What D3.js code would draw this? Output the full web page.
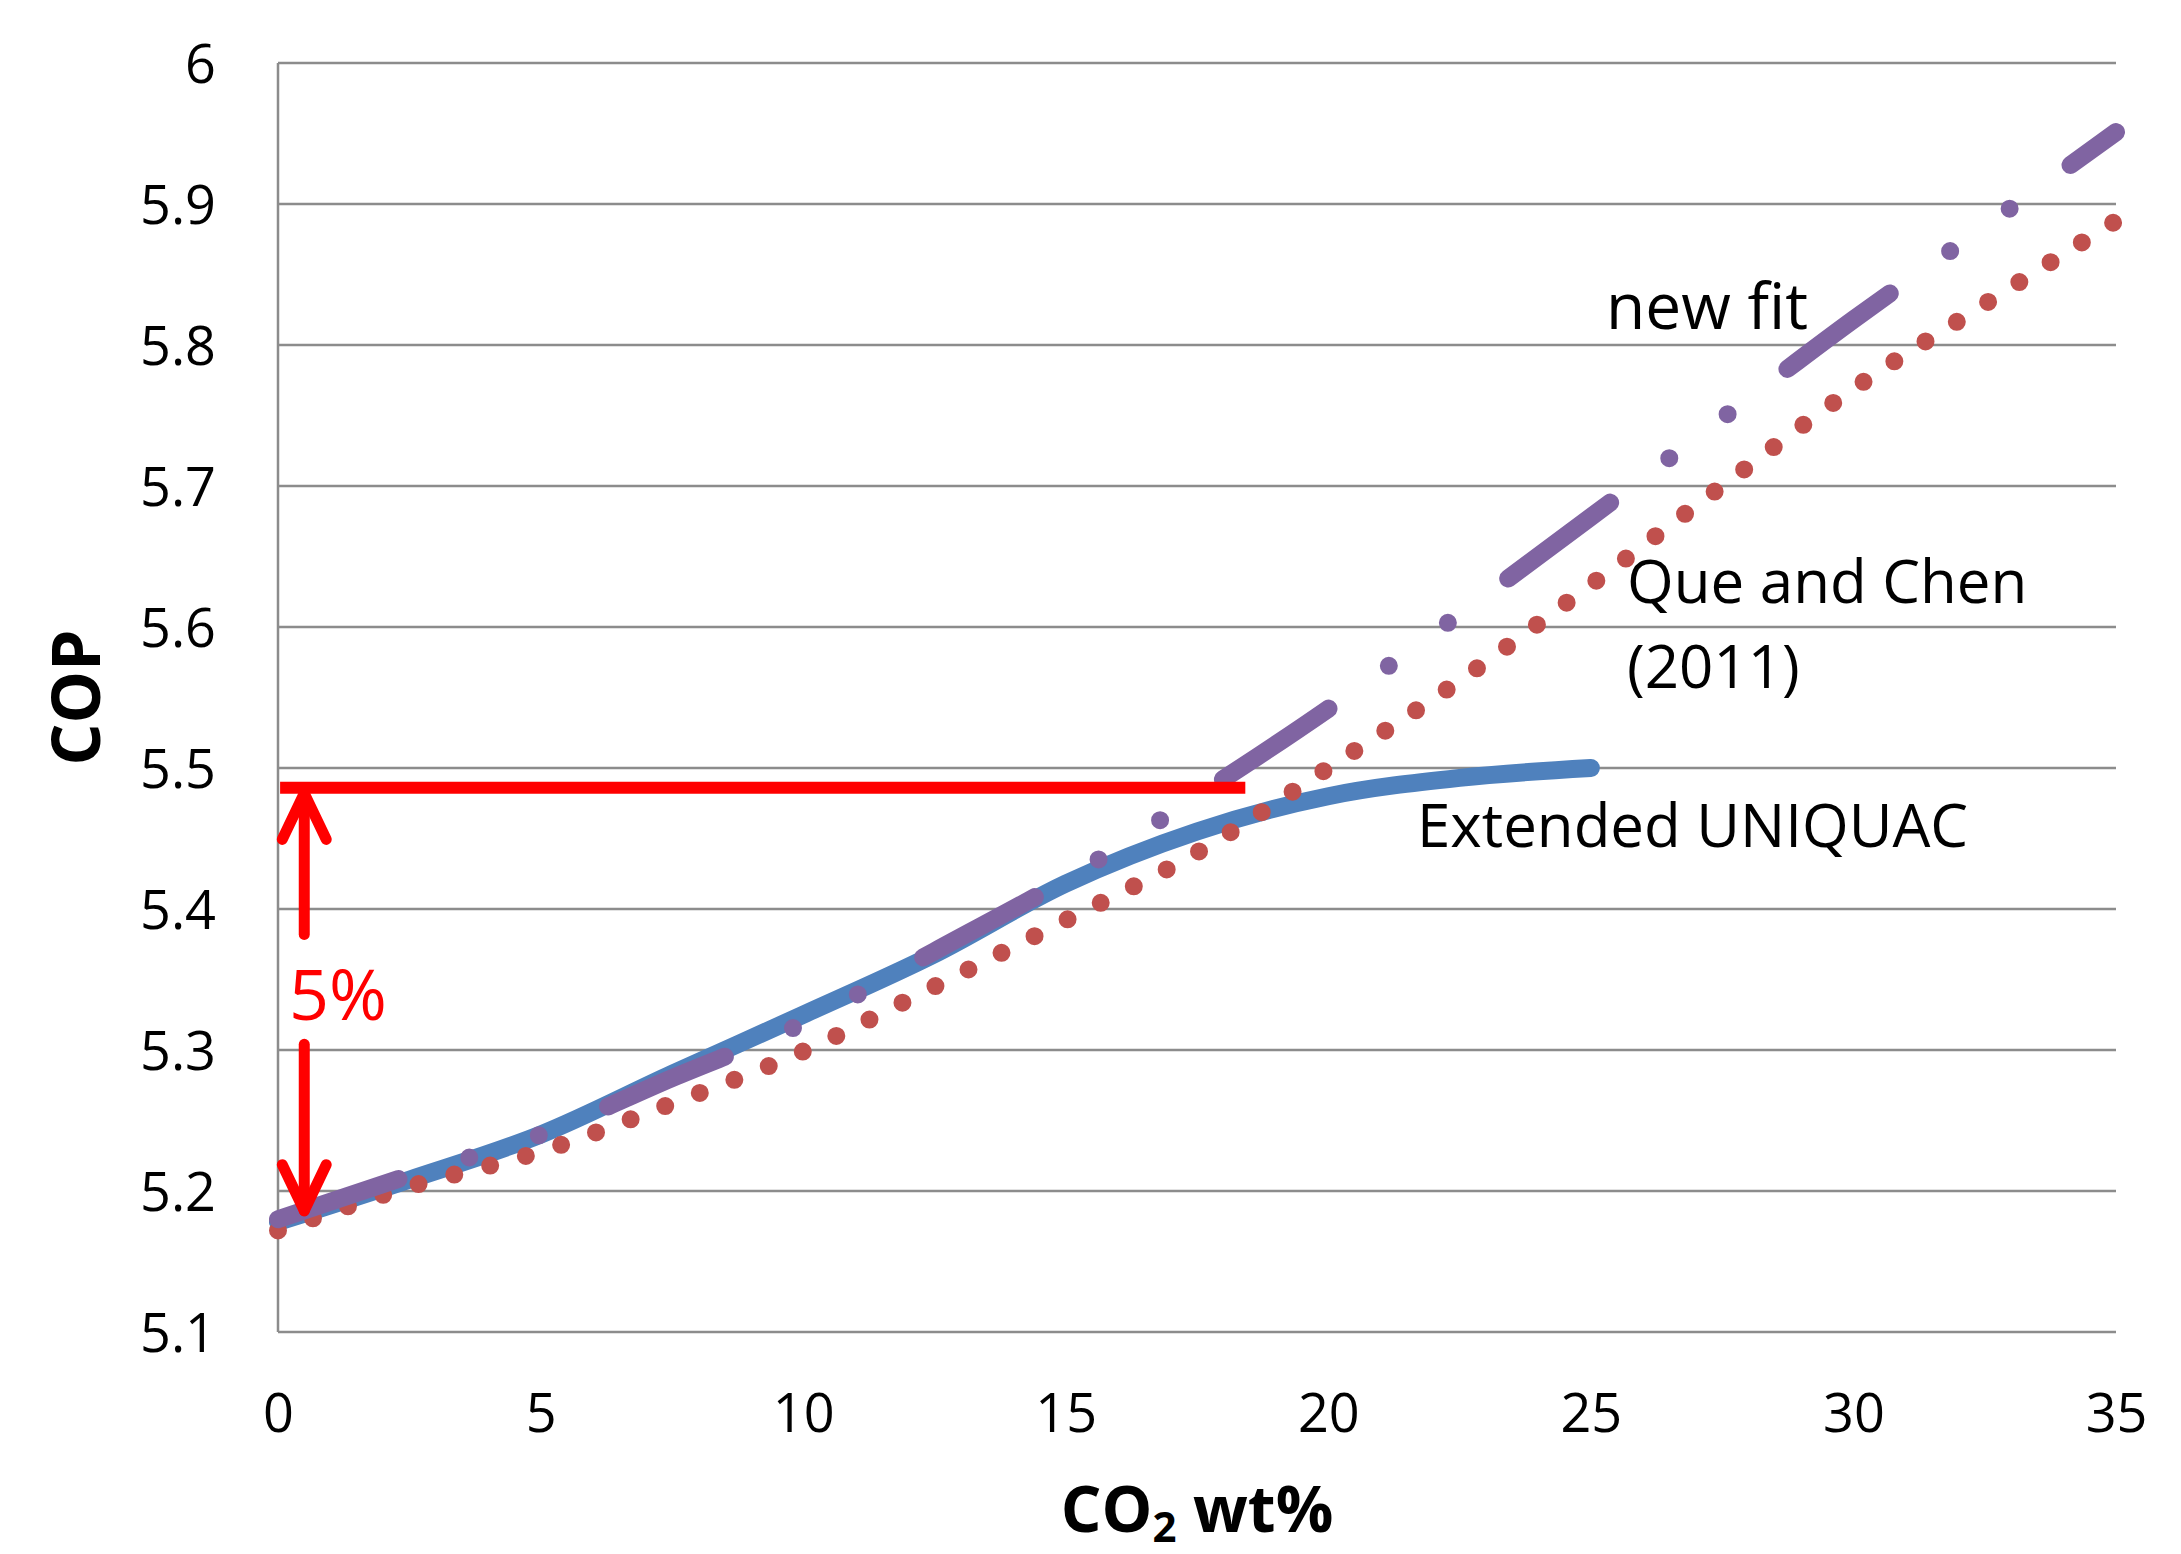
<!DOCTYPE html>
<html>
<head>
<meta charset="utf-8">
<script src="https://cdn.jsdelivr.net/npm/d3@7"></script>
<style>
  body { margin: 0; background: #fff; }
  text { font-family: "Open Sans", sans-serif; fill: #000; }
</style>
</head>
<body>
<svg id="chart" width="2181" height="1554"></svg>
<script>
// CO2 wt% sample points
const coWt = [0, 2.5, 5, 7.5, 10, 12.5, 15, 17.5, 20, 22.5, 25, 27.5, 30, 32.5, 35];

// COP per model (Extended UNIQUAC only runs to 25 wt%)
const extendedUniquac = [5.178, 5.208, 5.240, 5.283, 5.325, 5.368, 5.418, 5.455, 5.480, 5.493, 5.500];
const queChen = [5.172, 5.203, 5.228, 5.262, 5.299, 5.345, 5.392, 5.440, 5.500, 5.562, 5.630, 5.700, 5.769, 5.829, 5.888];
const newFit = [5.180, 5.211, 5.240, 5.280, 5.319, 5.370, 5.421, 5.480, 5.542, 5.609, 5.678, 5.748, 5.818, 5.884, 5.951];

const xTicks = [0, 5, 10, 15, 20, 25, 30, 35];
const yTicks = [5.1, 5.2, 5.3, 5.4, 5.5, 5.6, 5.7, 5.8, 5.9, 6];

// the red 5% marker
const markerCop = [5.486];
const markerSpan = [0.04, 18.42];
const arrowX = [0.5];
const arrowUpper = [5.482, 5.382];
const arrowLower = [5.304, 5.186];

const svg = d3.select('#chart');
const plotLeft = 278, plotRight = 2116, plotTop = 63, plotBottom = 1332;

const x = d3.scaleLinear().domain([0, 35]).range([plotLeft, plotRight]);
const y = d3.scaleLinear().domain([5.1, 6]).range([plotBottom, plotTop]);

// gridlines
svg.append('g')
  .selectAll('line')
  .data(yTicks)
  .enter()
  .append('line')
  .attr('x1', plotLeft)
  .attr('x2', plotRight)
  .attr('y1', d => y(d))
  .attr('y2', d => y(d))
  .attr('stroke', '#8c8c8c')
  .attr('stroke-width', 2.5);

svg.append('line')
  .attr('x1', plotLeft).attr('x2', plotLeft)
  .attr('y1', plotTop).attr('y2', plotBottom)
  .attr('stroke', '#8c8c8c')
  .attr('stroke-width', 2.5);

// axes, drawn with d3 but without tick marks or domain path
const yAxis = svg.append('g')
  .attr('transform', `translate(${plotLeft},0)`)
  .call(d3.axisLeft(y).tickValues(yTicks).tickSize(0).tickPadding(62).tickFormat(d => d === 6 ? '6' : d3.format('.1f')(d)));
yAxis.select('.domain').remove();
yAxis.selectAll('text')
  .attr('font-family', '"Open Sans", sans-serif')
  .attr('font-size', 54)
  .attr('fill', '#000')
  .attr('dy', '0.36em');

const xAxis = svg.append('g')
  .attr('transform', `translate(0,${plotBottom})`)
  .call(d3.axisBottom(x).tickValues(xTicks).tickSize(0).tickFormat(d3.format('d')));
xAxis.select('.domain').remove();
xAxis.selectAll('text')
  .attr('font-family', '"Open Sans", sans-serif')
  .attr('font-size', 54)
  .attr('fill', '#000')
  .attr('y', 100)
  .attr('dy', 0);

// axis titles
const xTitle = svg.append('text')
  .attr('x', (plotLeft + plotRight) / 2)
  .attr('y', 1532)
  .attr('text-anchor', 'middle')
  .attr('font-size', 64)
  .attr('font-weight', 'bold');
xTitle.append('tspan').text('CO');
xTitle.append('tspan').attr('font-size', 42).attr('dy', 10).text('2');
xTitle.append('tspan').attr('dy', -10).text(' wt%');

svg.append('text')
  .attr('transform', `translate(100,${(plotTop + plotBottom) / 2}) rotate(-90)`)
  .attr('text-anchor', 'middle')
  .attr('font-size', 66)
  .attr('font-weight', 'bold')
  .text('COP');

// series
const line = d3.line()
  .x(d => x(d[0]))
  .y(d => y(d[1]))
  .curve(d3.curveMonotoneX);

svg.append('path')
  .datum(extendedUniquac.map((v, i) => [coWt[i], v]))
  .attr('d', line)
  .attr('fill', 'none')
  .attr('stroke', '#4f81bd')
  .attr('stroke-width', 18)
  .attr('stroke-linecap', 'round');

svg.append('path')
  .datum(queChen.map((v, i) => [coWt[i], v]))
  .attr('d', line)
  .attr('fill', 'none')
  .attr('stroke', '#c0504d')
  .attr('stroke-width', 18)
  .attr('stroke-linecap', 'round')
  .attr('stroke-dasharray', '0 37');

svg.append('path')
  .datum(newFit.map((v, i) => [coWt[i], v]))
  .attr('d', line)
  .attr('fill', 'none')
  .attr('stroke', '#8064a2')
  .attr('stroke-width', 18)
  .attr('stroke-linecap', 'round')
  .attr('stroke-dasharray', '127 74 0 73 0 75');

// series labels
const labels = [
  { text: 'new fit', at: [25.29, 5.811], size: 64 },
  { text: 'Que and Chen', at: [25.69, 5.617], size: 60 },
  { text: '(2011)', at: [25.69, 5.557], size: 60 },
  { text: 'Extended UNIQUAC', at: [21.69, 5.444], size: 60 }
];

svg.append('g')
  .selectAll('text')
  .data(labels)
  .enter()
  .append('text')
  .attr('x', d => x(d.at[0]))
  .attr('y', d => y(d.at[1]))
  .attr('font-size', d => d.size)
  .text(d => d.text);

// red 5% annotation
const red = '#ff0000';
svg.append('line')
  .attr('x1', x(markerSpan[0]))
  .attr('x2', x(markerSpan[1]))
  .attr('y1', y(markerCop[0]))
  .attr('y2', y(markerCop[0]))
  .attr('stroke', red)
  .attr('stroke-width', 12);

const ax = x(arrowX[0]);
const arrowParts = [
  [[ax, y(arrowUpper[0])], [ax, y(arrowUpper[1])]],
  [[ax - 22, y(arrowUpper[0]) + 46], [ax, y(arrowUpper[0])], [ax + 22, y(arrowUpper[0]) + 46]],
  [[ax, y(arrowLower[0])], [ax, y(arrowLower[1])]],
  [[ax - 22, y(arrowLower[1]) - 46], [ax, y(arrowLower[1])], [ax + 22, y(arrowLower[1]) - 46]]
];

svg.append('g')
  .selectAll('path')
  .data(arrowParts)
  .enter()
  .append('path')
  .attr('d', d3.line())
  .attr('fill', 'none')
  .attr('stroke', red)
  .attr('stroke-width', 11)
  .attr('stroke-linecap', 'round')
  .attr('stroke-linejoin', 'round');

svg.append('text')
  .attr('x', x(0.21))
  .attr('y', y(5.321))
  .attr('font-size', 70)
  .style('fill', red)
  .text('5%');
</script>
</body>
</html>
